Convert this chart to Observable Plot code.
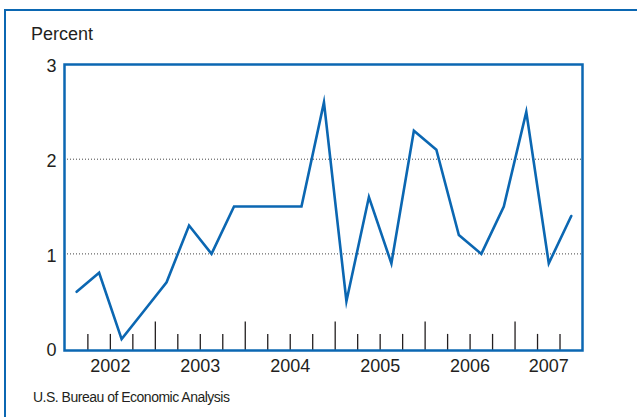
<!DOCTYPE html>
<html>
<head>
<meta charset="utf-8">
<script src="https://cdn.jsdelivr.net/npm/d3@7"></script>
<script src="https://cdn.jsdelivr.net/npm/@observablehq/plot@0.6"></script>
<style>
  html, body { margin: 0; padding: 0; background: #fff; }
  #wrap { position: relative; width: 637px; height: 417px; overflow: hidden; font-family: "Liberation Sans", Arial, sans-serif; color: #231f20; }
  #border { position: absolute; left: 4px; top: 9px; right: -5px; bottom: -5px; border-top: 2.5px solid #0b67b2; border-left: 2.5px solid #0b67b2; }
  #chart { position: absolute; left: 0; top: 0; }
  .lbl { position: absolute; line-height: 1; white-space: nowrap; }
  #ylabel { left: 31px; top: 25px; font-size: 18px; }
  #source { left: 33px; top: 390px; font-size: 14px; letter-spacing: -0.5px; }
</style>
</head>
<body>
<div id="wrap">
  <div id="border"></div>
  <div id="chart"></div>
  <div class="lbl" id="ylabel">Percent</div>
  <div class="lbl" id="source">U.S. Bureau of Economic Analysis</div>
</div>
<script>
// Data: quarterly percent change, 2002 Q1 – 2007 Q3
const periods = [
  "2002 Q1","2002 Q2","2002 Q3","2002 Q4",
  "2003 Q1","2003 Q2","2003 Q3","2003 Q4",
  "2004 Q1","2004 Q2","2004 Q3","2004 Q4",
  "2005 Q1","2005 Q2","2005 Q3","2005 Q4",
  "2006 Q1","2006 Q2","2006 Q3","2006 Q4",
  "2007 Q1","2007 Q2","2007 Q3"
];
const values = [
  0.6, 0.8, 0.1, 0.4,
  0.7, 1.3, 1.0, 1.5,
  1.5, 1.5, 1.5, 2.6,
  0.5, 1.6, 0.9, 2.3,
  2.1, 1.2, 1.0, 1.5,
  2.5, 0.9, 1.4
];
const years = [2002, 2003, 2004, 2005, 2006, 2007];
const yTicks = [0, 1, 2, 3];
const gridValues = [1, 2];

const C = "#0b67b2";
const xDomain = [2001.99, 2007.75];
const yDomain = [-0.02, 3];

// position of each quarter at its center
const data = periods.map((p, i) => {
  const [y, q] = p.split(" Q").map(Number);
  return {t: y + (q - 0.5) / 4, v: values[i]};
});

// quarter boundaries (minor) and year boundaries (major) inside the frame
const minorTicks = [];
const majorTicks = [];
years.forEach(y => {
  if (y > years[0]) majorTicks.push(y);
  [0.25, 0.5, 0.75].forEach(f => { if (y + f < xDomain[1] - 0.1) minorTicks.push(y + f); });
});

// year labels centered on visible portion of each year
const labelPos = years.map(y => (Math.max(y, xDomain[0]) + Math.min(y + 1, xDomain[1])) / 2);

const chart = Plot.plot({
  width: 637,
  height: 417,
  marginLeft: 64,
  marginRight: 55,
  marginTop: 64,
  marginBottom: 67,
  style: {fontFamily: "'Liberation Sans', Arial, sans-serif", fontSize: "18px", color: "#231f20", background: "transparent"},
  x: {domain: xDomain},
  y: {domain: yDomain},
  marks: [
    Plot.ruleY(gridValues, {stroke: "#444", strokeWidth: 1, strokeDasharray: "1,2"}),
    Plot.ruleX(minorTicks, {y1: yDomain[0], y2: 0.15, stroke: "#231f20", strokeWidth: 1.3}),
    Plot.ruleX(majorTicks, {y1: yDomain[0], y2: 0.28, stroke: "#231f20", strokeWidth: 1.3}),
    Plot.line(data, {x: "t", y: "v", stroke: C, strokeWidth: 2.6, strokeLinejoin: "miter", strokeMiterlimit: 12}),
    Plot.frame({stroke: C, strokeWidth: 2.5}),
    Plot.axisY(yTicks, {tickSize: 0, tickPadding: 8, label: null, fontSize: 18, dy: 2, tickFormat: d => String(d)}),
    Plot.axisX(labelPos, {tickSize: 0, tickPadding: 9, label: null, fontSize: 18, tickFormat: d => String(Math.floor(d))})
  ]
});
document.getElementById("chart").appendChild(chart);
</script>
</body>
</html>
